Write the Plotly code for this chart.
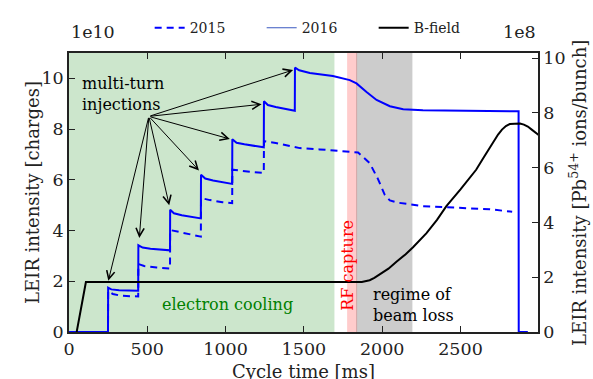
import plotly.graph_objects as go

# --- LEIR cycle: intensity in charges (left axis), ions/bunch (right axis) ---
# 2016 cycle, 7 multi-turn injections (units of 1e10 charges)
t_2016 = [0, 249, 250, 270, 320, 400, 442,
          443, 470, 520, 600, 645,
          646, 670, 720, 800, 842,
          843, 870, 920, 1000, 1042,
          1043, 1070, 1120, 1200, 1244,
          1245, 1270, 1320, 1400, 1442,
          1443, 1470, 1538, 1685, 1793, 1836, 1900, 1964, 2049, 2134, 2260,
          2500, 2700, 2871, 2872, 2930]
q_2016 = [0, 0, 1.75, 1.68, 1.65, 1.64, 1.63,
          3.42, 3.33, 3.28, 3.24, 3.22,
          4.82, 4.68, 4.60, 4.52, 4.48,
          6.20, 6.05, 5.97, 5.88, 5.84,
          7.60, 7.46, 7.40, 7.32, 7.28,
          9.10, 8.95, 8.87, 8.78, 8.72,
          10.42, 10.32, 10.21, 10.09, 9.93, 9.80, 9.46, 9.15, 8.90, 8.78, 8.74,
          8.72, 8.71, 8.70, 0, 0]

# 2015 cycle, 6 injections (units of 1e10 charges)
t_2015 = [0, 249, 250, 280, 330, 442,
          443, 480, 560, 645,
          646, 700, 780, 842,
          843, 900, 980, 1042,
          1043, 1100, 1180, 1244,
          1245, 1320, 1474, 1600, 1772, 1846, 1921, 1974, 2017, 2049, 2100,
          2261, 2687, 2830]
q_2015 = [0, 0, 1.62, 1.50, 1.43, 1.40,
          2.68, 2.60, 2.54, 2.50,
          4.02, 3.95, 3.82, 3.76,
          5.28, 5.20, 5.12, 5.08,
          6.40, 6.35, 6.30, 6.27,
          7.52, 7.45, 7.25, 7.20, 7.12, 7.08, 6.65, 6.02, 5.40, 5.19, 5.10,
          4.96, 4.84, 4.74]

# Main dipole field [T]
t_bfield = [49, 108, 1870, 1895, 1920, 1950, 1985, 2040, 2091, 2150, 2197, 2283, 2350,
            2410, 2500, 2600, 2650, 2700, 2740, 2765, 2790, 2815, 2845, 2880, 2905, 2930,
            2955, 2980, 3000]
b_field = [0, 0.280, 0.280, 0.283, 0.290, 0.303, 0.323, 0.355, 0.394, 0.436, 0.475, 0.554, 0.628,
           0.705, 0.799, 0.909, 0.980, 1.052, 1.106, 1.134, 1.154, 1.165, 1.168, 1.168, 1.162, 1.151,
           1.134, 1.117, 1.103]

# Cycle phases [ms]
cooling_span = (0, 1695)
rf_capture_span = (1776, 1840)
loss_span = (1834, 2193)

# Injection arrow tips (ms, 1e10 charges) and common arrow origin
inj_tip_t = [251, 449, 640, 830, 1027, 1230, 1431]
inj_tip_q = [2.02, 3.71, 5.00, 6.37, 7.61, 8.98, 10.33]
arrow_origin = (510, 8.5)

Q_MAX = 11.0                 # left axis top, 1e10 charges
IONS_MAX = Q_MAX * 100 / 108  # right axis top, 1e8 ions/bunch (Z=54, 2 bunches)
B_MAX = Q_MAX * 0.1421        # hidden field axis top, T

FONT = "DejaVu Serif"
INK = "#222222"

fig = go.Figure()

fig.add_trace(go.Scatter(x=t_2015, y=q_2015, mode="lines", showlegend=False,
                         line=dict(color="#0000ff", width=2, dash="7px,5px")))
fig.add_trace(go.Scatter(x=t_2016, y=q_2016, mode="lines", showlegend=False,
                         line=dict(color="#0000ff", width=2)))
fig.add_trace(go.Scatter(x=t_bfield, y=b_field, mode="lines", showlegend=False,
                         yaxis="y3", line=dict(color="black", width=2)))

# legend entries
fig.add_trace(go.Scatter(x=[None], y=[None], mode="lines", name="2015",
                         line=dict(color="#0000ff", width=2, dash="7px,5px")))
fig.add_trace(go.Scatter(x=[None], y=[None], mode="lines", name="2016",
                         line=dict(color="#3a58c0", width=1.2)))
fig.add_trace(go.Scatter(x=[None], y=[None], mode="lines", name="B-field",
                         line=dict(color="black", width=2)))
# keeps the right axis drawn
fig.add_trace(go.Scatter(x=[None], y=[None], yaxis="y2", showlegend=False))

shapes = [
    dict(type="rect", xref="x", yref="paper", x0=cooling_span[0], x1=cooling_span[1],
         y0=0, y1=1, fillcolor="rgba(0,128,0,0.2)", line=dict(width=0), layer="below"),
    dict(type="rect", xref="x", yref="paper", x0=rf_capture_span[0], x1=rf_capture_span[1],
         y0=0, y1=1, fillcolor="rgba(255,0,0,0.2)", line=dict(width=0), layer="below"),
    dict(type="rect", xref="x", yref="paper", x0=loss_span[0], x1=loss_span[1],
         y0=0, y1=1, fillcolor="rgba(0,0,0,0.2)", line=dict(width=0), layer="below"),
]

annotations = []
for tx, ty in zip(inj_tip_t, inj_tip_q):
    annotations.append(dict(x=tx, y=ty, xref="x", yref="y", ax=arrow_origin[0], ay=arrow_origin[1],
                            axref="x", ayref="y", text="", showarrow=True, arrowhead=5,
                            arrowsize=1.6, arrowwidth=1, arrowcolor="black", standoff=0))

annotations += [
    dict(x=70, y=9.40, xref="x", yref="y", text="multi-turn<br>injections", showarrow=False,
         xanchor="left", yanchor="middle", align="left", font=dict(family=FONT, size=16, color="black")),
    dict(x=1015, y=1.1, xref="x", yref="y", text="electron cooling", showarrow=False,
         font=dict(family=FONT, size=16, color="#008000")),
    dict(x=1777, y=2.62, xref="x", yref="y", text="RF capture", showarrow=False, textangle=-90,
         font=dict(family=FONT, size=16, color="red")),
    dict(x=1928, y=1.06, xref="x", yref="y", text="regime of<br>beam loss", showarrow=False,
         xanchor="left", yanchor="middle", align="left", font=dict(family=FONT, size=16, color="black")),
    # exponent labels
    dict(x=0, y=1.075, xref="paper", yref="paper", text="1e10", showarrow=False,
         xanchor="left", yanchor="middle", font=dict(family=FONT, size=17.5, color=INK)),
    dict(x=1, y=1.075, xref="paper", yref="paper", text="1e8", showarrow=False,
         xanchor="right", yanchor="middle", font=dict(family=FONT, size=17.5, color=INK)),
    # axis titles
    dict(x=-0.1045, y=0.5, xref="paper", yref="paper", text="LEIR intensity [charges]",
         showarrow=False, textangle=-90, font=dict(family=FONT, size=18, color=INK)),
    dict(x=1.114, y=0.5, xref="paper", yref="paper",
         text="LEIR intensity [Pb<sup>54+</sup> ions/bunch]",
         showarrow=False, textangle=-90, font=dict(family=FONT, size=18, color=INK)),
    dict(x=0.5, y=-0.142, xref="paper", yref="paper", text="Cycle time [ms]",
         showarrow=False, yanchor="middle", font=dict(family=FONT, size=18, color=INK)),
]

axis_common = dict(showgrid=False, zeroline=False, showline=True, linecolor=INK, linewidth=1.5,
                   ticks="inside", ticklen=6, tickwidth=1, tickcolor=INK,
                   tickfont=dict(family=FONT, size=17.5, color=INK))

fig.update_layout(
    width=593, height=379,
    margin=dict(l=69, r=55, t=39, b=47),
    paper_bgcolor="white", plot_bgcolor="white",
    font=dict(family=FONT, color=INK),
    xaxis=dict(range=[0, 2995], tickvals=[0, 500, 1000, 1500, 2000, 2500], mirror="ticks",
               **axis_common),
    yaxis=dict(range=[0, Q_MAX], tickvals=[0, 2, 4, 6, 8, 10], **axis_common),
    yaxis2=dict(range=[0, IONS_MAX], tickvals=[0, 2, 4, 6, 8, 10], overlaying="y", side="right",
                **axis_common),
    yaxis3=dict(range=[0, B_MAX], overlaying="y", visible=False),
    legend=dict(orientation="h", x=0.172, y=1.089, xanchor="left", yanchor="middle",
                bgcolor="rgba(0,0,0,0)", font=dict(family=FONT, size=14, color=INK),
                entrywidth=67, entrywidthmode="pixels"),
    shapes=shapes,
    annotations=annotations,
)

fig.write_html("out.html")
